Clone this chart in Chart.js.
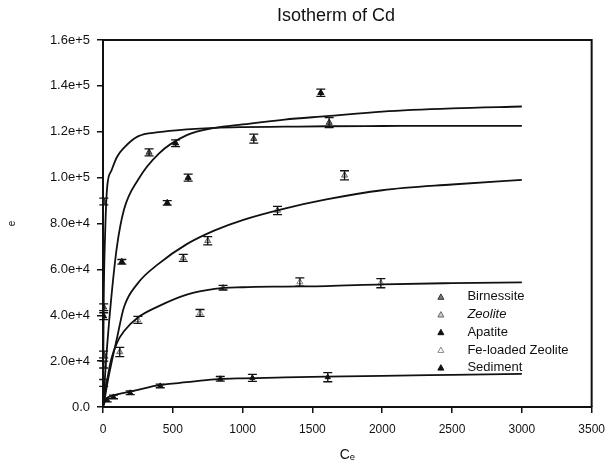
<!DOCTYPE html>
<html>
<head>
<meta charset="utf-8">
<title>Isotherm of Cd</title>
<script src="https://cdn.jsdelivr.net/npm/chart.js@4.4.1/dist/chart.umd.min.js"></script>
<style>
  html, body { margin: 0; padding: 0; background: #fff; }
  #wrap { width: 614px; height: 474px; }
</style>
</head>
<body>
<div id="wrap"><canvas id="chart-isotherm" width="614" height="474"></canvas></div>
<script>
// ---- Measured points (Ce, qe, +/- error) ----
const birnessiteCe  = [4, 5, 6, 330, 1080, 1620];
const birnessiteQe  = [22900, 43500, 89600, 111000, 117000, 124000];
const birnessiteErr = [1500, 1500, 1500, 1500, 2000, 2200];

const zeoliteCe  = [5, 120, 575, 750, 1250, 1730];
const zeoliteQe  = [10500, 24000, 65000, 72500, 85700, 101000];
const zeoliteErr = [1500, 2000, 1500, 1800, 1800, 2000];

const apatiteCe  = [5, 135, 460, 520, 610, 1560];
const apatiteQe  = [39600, 63300, 89000, 115000, 100000, 137000];
const apatiteErr = [1500, 1000, 1000, 1500, 1500, 1600];

const feZeoliteCe  = [5, 250, 695, 860, 1410, 1990];
const feZeoliteQe  = [18500, 38000, 41000, 52000, 54500, 54000];
const feZeoliteErr = [1500, 1500, 1500, 1000, 1800, 2000];

const sedimentCe  = [30, 75, 195, 410, 840, 1070, 1610];
const sedimentQe  = [3000, 4400, 6200, 9200, 12300, 12700, 13000];
const sedimentErr = [800, 800, 800, 800, 1000, 1500, 2000];

// ---- Fitted curves at the same Ce values ----
const fitCe         = [0, 5, 15, 30, 60, 100, 150, 250, 400, 600, 800, 1000, 1300, 1600, 2000, 2500, 3000];
const fitBirnessite = [0, 45000, 75000, 96000, 103000, 109000, 113000, 118000, 119800, 121000, 121700, 122000, 122200, 122400, 122500, 122600, 122600];
const fitApatite    = [0, 5000, 14000, 27000, 48000, 70000, 86000, 99000, 110500, 118500, 121700, 123200, 125300, 126800, 128800, 130200, 131000];
const fitZeolite    = [0, 1500, 4500, 10000, 19000, 30000, 43500, 54000, 62500, 71000, 77000, 81500, 86500, 90500, 94500, 97000, 99000];
const fitFeZeolite  = [0, 2500, 7000, 12000, 21000, 28000, 33000, 39000, 44000, 49000, 51500, 52200, 52500, 52700, 53500, 54000, 54300];
const fitSediment   = [0, 1000, 2500, 4000, 4800, 5500, 6200, 7500, 9500, 10800, 12000, 12500, 12900, 13200, 13600, 14000, 14400];

const yTicks = [0, 20000, 40000, 60000, 80000, 100000, 120000, 140000, 160000];
const xTicks = [0, 500, 1000, 1500, 2000, 2500, 3000, 3500];

const INK = '#111';
const FONT = "'Liberation Sans', Arial, sans-serif";

const pts = (xs, ys) => xs.map((x, i) => ({ x, y: ys[i] }));

function pointSet(label, xs, ys, errs, fill, stroke, radius) {
  return {
    label,
    data: pts(xs, ys),
    errs,
    showLine: false,
    pointStyle: 'triangle',
    pointRadius: radius,
    pointHoverRadius: radius,
    backgroundColor: fill,
    borderColor: stroke,
    pointBorderWidth: 1,
    legendItem: true,
  };
}

function curveSet(ys) {
  return {
    label: '',
    data: pts(fitCe, ys),
    showLine: true,
    pointRadius: 0,
    borderColor: INK,
    borderWidth: 1.8,
    cubicInterpolationMode: 'monotone',
    fill: false,
  };
}

// ---- Plugin: error bars ----
const errorBars = {
  id: 'error-bars',
  afterDatasetsDraw(chart) {
    const { ctx, scales: { x, y } } = chart;
    ctx.save();
    ctx.strokeStyle = INK;
    ctx.lineWidth = 1.3;
    chart.data.datasets.forEach(ds => {
      if (!ds.errs) return;
      ds.data.forEach((p, i) => {
        const px = x.getPixelForValue(p.x);
        const t = y.getPixelForValue(p.y + ds.errs[i]);
        const b = y.getPixelForValue(p.y - ds.errs[i]);
        ctx.beginPath();
        ctx.moveTo(px, t); ctx.lineTo(px, b);
        ctx.moveTo(px - 4.5, t); ctx.lineTo(px + 4.5, t);
        ctx.moveTo(px - 4.5, b); ctx.lineTo(px + 4.5, b);
        ctx.stroke();
      });
    });
    ctx.restore();
  }
};

// ---- Plugin: top + right frame lines, and the title ----
const frame = {
  id: 'frame',
  afterDraw(chart) {
    const { ctx, chartArea: a } = chart;
    ctx.save();
    ctx.strokeStyle = INK;
    ctx.lineWidth = 2;
    ctx.beginPath();
    ctx.moveTo(a.left, a.top); ctx.lineTo(a.right, a.top); ctx.lineTo(a.right, a.bottom);
    ctx.stroke();
    ctx.fillStyle = INK;
    ctx.font = '18px ' + FONT;
    ctx.textAlign = 'center';
    ctx.textBaseline = 'middle';
    ctx.fillText('Isotherm of Cd', 336, 16);
    ctx.restore();
  }
};

// ---- Plugin: legend inside plot (bottom right) ----
const innerLegend = {
  id: 'inner-legend',
  afterDraw(chart) {
    const { ctx, scales: { x, y } } = chart;
    const items = chart.data.datasets.filter(d => d.legendItem);
    const mx = x.getPixelForValue(2420);
    const tx = x.getPixelForValue(2610);
    let ty = y.getPixelForValue(48000);
    ctx.save();
    ctx.textBaseline = 'middle';
    items.forEach(d => {
      const r = 3;
      ctx.beginPath();
      ctx.moveTo(mx, ty - r);
      ctx.lineTo(mx + r, ty + r * 0.8);
      ctx.lineTo(mx - r, ty + r * 0.8);
      ctx.closePath();
      ctx.fillStyle = d.backgroundColor;
      ctx.strokeStyle = d.borderColor;
      ctx.lineWidth = 1;
      ctx.fill(); ctx.stroke();
      ctx.fillStyle = INK;
      ctx.font = (d.label === 'Zeolite' ? 'italic ' : '') + '13px ' + FONT;
      ctx.fillText(d.label, tx, ty);
      ty += 17.7;
    });
    ctx.restore();
  }
};

const datasets = [
  curveSet(fitBirnessite),
  curveSet(fitApatite),
  curveSet(fitZeolite),
  curveSet(fitFeZeolite),
  curveSet(fitSediment),
  pointSet('Birnessite', birnessiteCe, birnessiteQe, birnessiteErr, '#777', '#333', 3.5),
  pointSet('Zeolite', zeoliteCe, zeoliteQe, zeoliteErr, '#ccc', '#666', 3.5),
  pointSet('Apatite', apatiteCe, apatiteQe, apatiteErr, '#111', '#111', 3.5),
  pointSet('Fe-loaded Zeolite', feZeoliteCe, feZeoliteQe, feZeoliteErr, '#fff', '#888', 3.5),
  pointSet('Sediment', sedimentCe, sedimentQe, sedimentErr, '#111', '#111', 3),
];

new Chart(document.getElementById('chart-isotherm'), {
  type: 'scatter',
  data: { datasets },
  options: {
    responsive: false,
    animation: false,
    layout: { padding: { top: 40, right: 22, bottom: 0, left: 0 } },
    plugins: {
      legend: { display: false },
      tooltip: { enabled: false },
      title: { display: false },
    },
    scales: {
      x: {
        type: 'linear',
        min: 0, max: 3500,
        afterFit: s => { s.height = 67; },
        afterBuildTicks: s => { s.ticks = xTicks.map(v => ({ value: v })); },
        grid: { drawOnChartArea: false, drawTicks: true, tickLength: 6, color: INK, lineWidth: 1.5 },
        border: { display: true, color: INK, width: 2 },
        ticks: { color: INK, padding: 9, font: { family: FONT, size: 12 }, callback: v => String(v) },
        title: { display: true, text: 'Cₑ', color: INK, font: { family: FONT, size: 14 }, padding: { top: 0, bottom: 10 } },
      },
      y: {
        type: 'linear',
        min: 0, max: 160000,
        afterFit: s => { s.width = 103; },
        afterBuildTicks: s => { s.ticks = yTicks.map(v => ({ value: v })); },
        grid: { drawOnChartArea: false, drawTicks: true, tickLength: 6, color: INK, lineWidth: 1.5 },
        border: { display: true, color: INK, width: 2 },
        ticks: {
          color: INK, padding: 7,
          font: { family: FONT, size: 13 },
          callback: v => v === 0 ? '0.0' : v.toExponential(1),
        },
        title: { display: true, text: 'e', color: INK, font: { family: FONT, size: 10 }, padding: { top: 6, bottom: 0 } },
      },
    },
  },
  plugins: [errorBars, frame, innerLegend],
});
</script>
</body>
</html>
